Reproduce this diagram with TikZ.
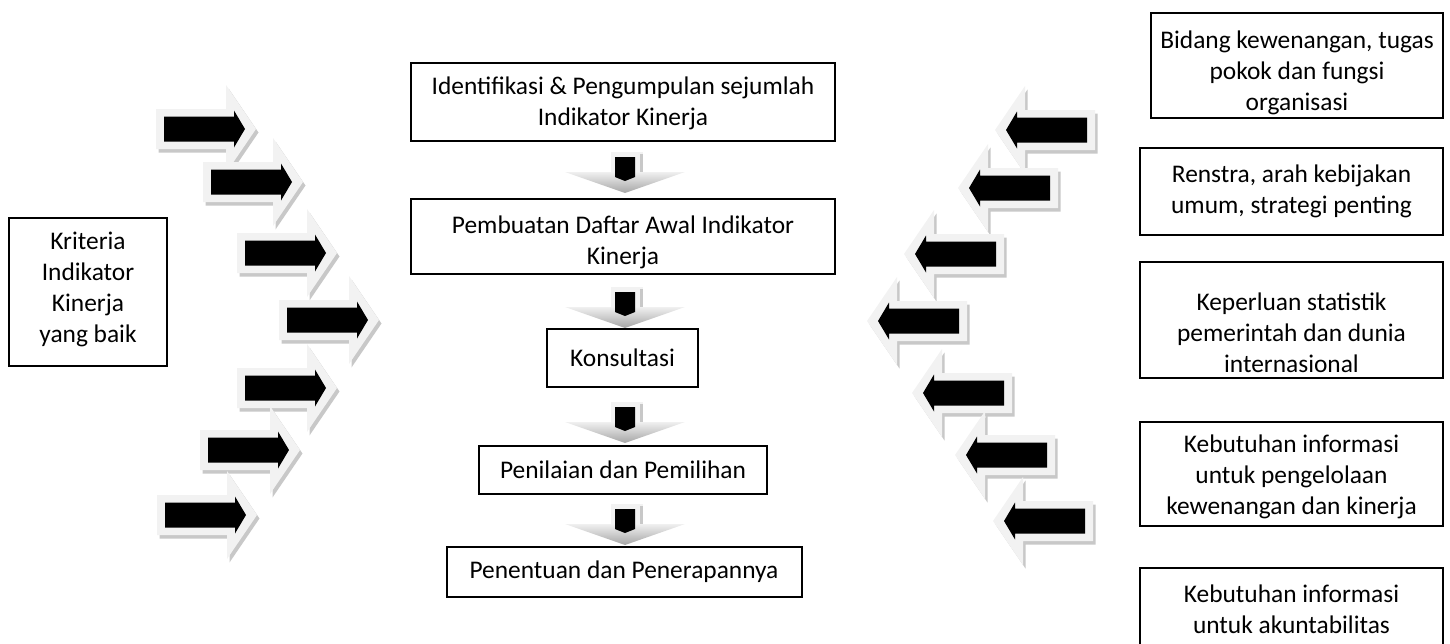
\documentclass[tikz,border=0pt]{standalone}
\usepackage{fontspec}
\setmainfont{Carlito}
\definecolor{rimgray}{RGB}{242,242,242}
\definecolor{shadowgray}{RGB}{200,200,200}
\tikzset{
  box/.style={draw=black, line width=1.3pt, inner sep=0pt},
  txt/.style={align=center, font=\fontsize{25.4}{31}\selectfont, inner sep=0pt},
}
\def\outerarrow{(0,-20) -- (70,-20) -- (70,-44) -- (100,0) -- (70,44) -- (70,20) -- (0,20) -- cycle}
\def\innerarrow{(8,-12.5) -- (78,-12.5) -- (78,-18.5) -- (89,0) -- (78,18.5) -- (78,12.5) -- (8,12.5) -- cycle}
% right-pointing block arrow: #1 = left edge, #2 = centre y
\newcommand\rightblock[2]{%
  \begin{scope}[shift={(#1,#2)}]
    \fill[shadowgray, shift={(2.5,3.5)}] \outerarrow;
    \fill[rimgray] \outerarrow;
    \fill[black] \innerarrow;
  \end{scope}}
% left-pointing block arrow: #1 = right edge, #2 = centre y
\newcommand\leftblock[2]{%
  \begin{scope}[shift={(#1,#2)}, xscale=-1]
    \fill[shadowgray, shift={(-2.5,3.5)}] \outerarrow;
    \fill[rimgray] \outerarrow;
    \fill[black] \innerarrow;
  \end{scope}}
% downward block arrow: #1 = centre x, #2 = tip y
\newcommand\downblock[2]{%
  \begin{scope}[shift={(#1,#2)}]
    \fill[rimgray] (-14,-41) rectangle (18,-21);
    \fill[shadowgray] (15,-39) rectangle (18,-21);
    \shade[top color=black!6, bottom color=black!35] (-60,-21) -- (60,-21) -- (0,0) -- cycle;
    \fill[black] (-10,-36) -- (10,-36) -- (10,-16) -- (0,-12) -- (-10,-16) -- cycle;
  \end{scope}}
\begin{document}
\begin{tikzpicture}[x=1pt, y=-1pt]
\useasboundingbox (0,0) rectangle (1450,643);
\clip (0,0) rectangle (1450,643);

% left arrows
\rightblock{156}{129}
\rightblock{203}{182}
\rightblock{237}{253}
\rightblock{279}{320}
\rightblock{237}{388}
\rightblock{200}{450}
\rightblock{157}{515}

% right arrows
\leftblock{1095}{130}
\leftblock{1058}{188}
\leftblock{1004}{254}
\leftblock{967}{321}
\leftblock{1012}{393}
\leftblock{1055}{455}
\leftblock{1093}{521}

% down arrows
\downblock{625}{193}
\downblock{625}{328}
\downblock{625}{443}
\downblock{625}{545}

% left box
\node[box, minimum width=158pt, minimum height=148pt] (krit) at (88,292) {};
\node[txt] (kritt) at (88,289) {Kriteria\\Indikator\\Kinerja\\yang baik};

% centre column
\node[box, minimum width=424pt, minimum height=78pt] (ident) at (623,102) {};
\node[txt] (identt) at (623,103.5) {Identifikasi \& Pengumpulan sejumlah\\Indikator Kinerja};
\node[box, minimum width=424pt, minimum height=75pt] (daftar) at (623,236.5) {};
\node[txt] (daftart) at (623,242) {Pembuatan Daftar Awal Indikator\\Kinerja};
\node[box, minimum width=151pt, minimum height=58pt] (kons) at (622.5,358) {};
\node[txt] (konst) at (622.5,358) {Konsultasi};
\node[box, minimum width=288pt, minimum height=48pt] (nilai) at (623,470) {};
\node[txt] (nilait) at (623,470) {Penilaian dan Pemilihan};
\node[box, minimum width=355pt, minimum height=50pt] (tentu) at (624.5,572) {};
\node[txt] (tentut) at (624,572) {Penentuan dan Penerapannya};

% right column
\node[txt] (r1t) at (1297,72.5) {Bidang kewenangan, tugas\\pokok dan fungsi\\organisasi};
\node[box, minimum width=292pt, minimum height=105pt] (r1) at (1297,65.5) {};
\node[box, minimum width=303pt, minimum height=87pt] (r2) at (1291.5,191.5) {};
\node[txt] (r2t) at (1291.5,191) {Renstra, arah kebijakan\\umum, strategi penting};
\node[box, minimum width=303pt, minimum height=116pt] (r3) at (1291.5,320) {};
\node[txt] (r3t) at (1291.5,332.5) {Keperluan statistik\\pemerintah dan dunia\\internasional};
\node[box, minimum width=303pt, minimum height=104pt] (r4) at (1291.5,474) {};
\node[txt] (r4t) at (1291.5,476.5) {Kebutuhan informasi\\untuk pengelolaan\\kewenangan dan kinerja};
\node[box, minimum width=303pt, minimum height=112pt] (r5) at (1291.5,624) {};
\node[txt] (r5t) at (1291.5,609) {Kebutuhan informasi\\untuk akuntabilitas};
\end{tikzpicture}
\end{document}
